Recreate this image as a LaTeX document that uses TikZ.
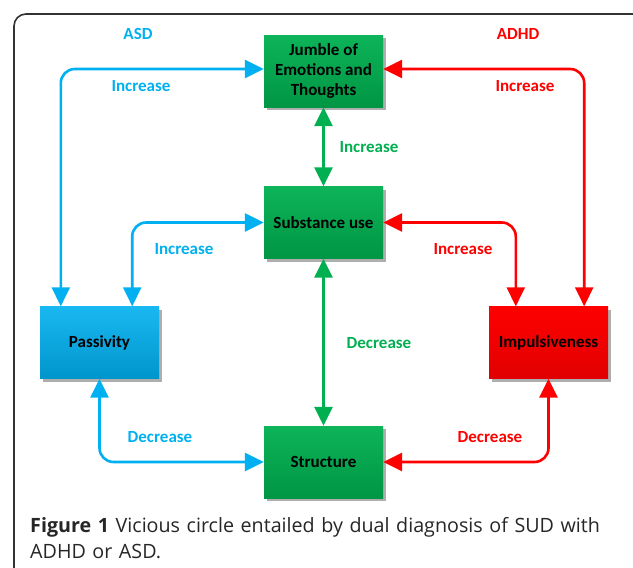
\documentclass[tikz,border=0pt]{standalone}
\usepackage{fontspec}
\setmainfont{Carlito}
\newfontfamily\capfont{Open Sans}
\usepackage{tikz}
\usetikzlibrary{arrows.meta,shadows,calc}
\definecolor{asdblue}{HTML}{00B0F0}
\definecolor{adhdred}{HTML}{FF0000}
\definecolor{sudgreen}{HTML}{00B050}

\begin{document}
\begin{tikzpicture}[x=1pt,y=1pt,
  box/.style={minimum width=119pt,minimum height=72pt,align=center,
    font=\fontsize{17}{20}\selectfont\bfseries,
    drop shadow={shadow xshift=3pt,shadow yshift=-3pt,fill=black!45,opacity=.7}},
  greenbox/.style={box,top color=sudgreen!95!white,bottom color=sudgreen!85!black},
  bluebox/.style={box,top color=asdblue!90!white,bottom color=asdblue!85!black},
  redbox/.style={box,top color=adhdred,bottom color=adhdred!88!black},
  link/.style={line width=2.6pt,rounded corners=14pt,
    {Triangle[length=19pt,width=18pt]}-{Triangle[length=19pt,width=18pt]}},
  lbl/.style={font=\fontsize{17}{20}\selectfont\bfseries}]
\useasboundingbox (0,0) rectangle (633,-568);
\draw[line width=1.6pt,black!80,rounded corners=12pt] (14,-14) rectangle (660,-600);

\node[greenbox] (jum) at (323.5,-71) {Jumble of\\Emotions and\\Thoughts};
\node[greenbox] (sub) at (323.5,-222.5) {Substance use};
\node[greenbox] (str) at (323.5,-462) {Structure};
\node[bluebox] (pas) at (99.5,-342.5) {Passivity};
\node[redbox] (imp) at (548.5,-342.5) {Impulsiveness};

\draw[link,asdblue] ([xshift=21pt]pas.north west) |- ([yshift=2pt]jum.west);
\draw[link,asdblue] ([xshift=-27pt]pas.north east) |- (sub.west);
\draw[link,asdblue] (pas.south) |- (str.west);
\draw[link,adhdred] ([xshift=-24pt]imp.north east) |- ([yshift=2pt]jum.east);
\draw[link,adhdred] ([xshift=27pt]imp.north west) |- (sub.east);
\draw[link,adhdred] (imp.south) |- (str.east);
\draw[link,sudgreen] (jum.south) -- (sub.north);
\draw[link,sudgreen] (sub.south) -- (str.north);

\node[lbl,asdblue] (asd) at (138,-34) {ASD};
\node[lbl,adhdred] (adhd) at (518,-34) {ADHD};
\node[lbl,asdblue] (inc1) at (141,-86) {Increase};
\node[lbl,adhdred] (inc2) at (525,-86) {Increase};
\node[lbl,sudgreen] (inc3) at (369,-147) {Increase};
\node[lbl,asdblue] (inc4) at (184,-249) {Increase};
\node[lbl,adhdred] (inc5) at (463,-249) {Increase};
\node[lbl,sudgreen] (dec1) at (379,-343) {Decrease};
\node[lbl,asdblue] (dec2) at (160,-437) {Decrease};
\node[lbl,adhdred] (dec3) at (490,-437) {Decrease};

\node[anchor=north west,text width=600pt,align=left,inner sep=0pt,
  font=\capfont\fontsize{19.7}{26}\selectfont,text=black!85] (cap) at (30,-517)
  {\textbf{Figure 1} Vicious circle entailed by dual diagnosis of SUD with\\ADHD or ASD.};
\end{tikzpicture}
\end{document}
